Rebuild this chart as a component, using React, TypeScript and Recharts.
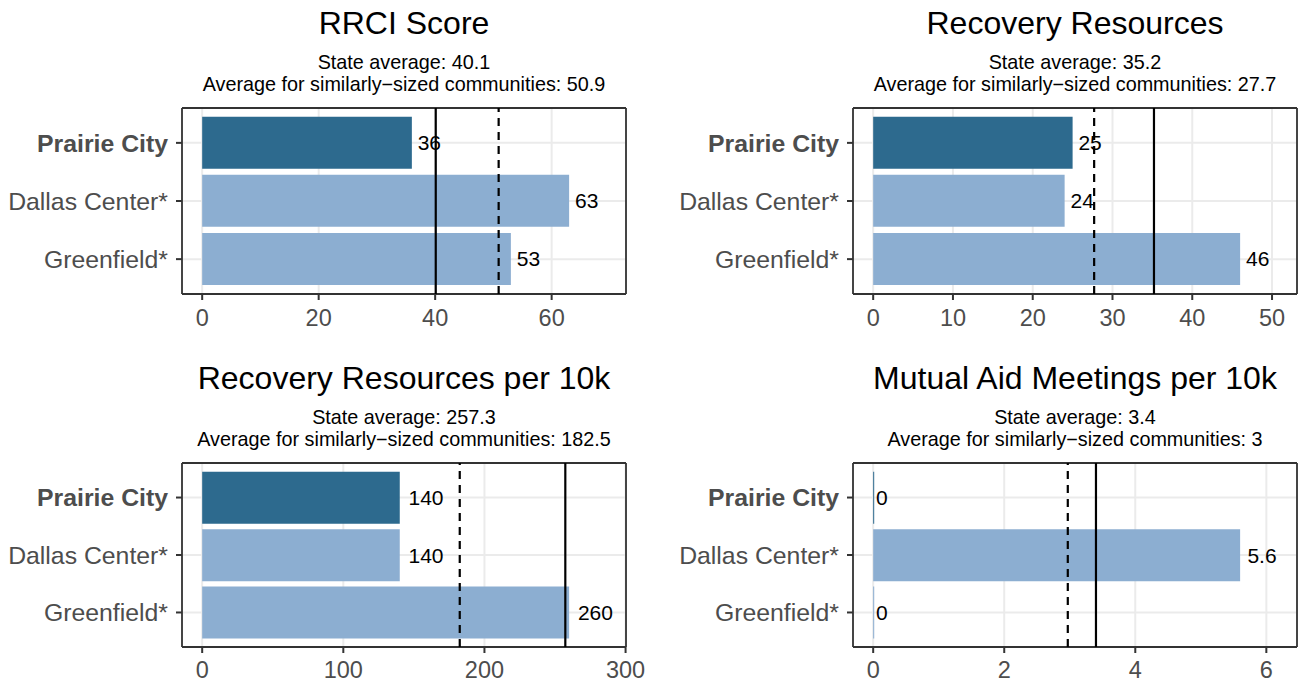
import React from 'react';
import { BarChart, Bar, XAxis, YAxis, CartesianGrid, ReferenceLine, Cell, LabelList } from 'recharts';

const communities = ['Prairie City', 'Dallas Center*', 'Greenfield*'];
const highlightCommunity = 'Prairie City';

const rrciScore = [36, 63, 53];
const recoveryResources = [25, 24, 46];
const resourcesPer10k = [140, 140, 260];
const meetingsPer10k = [0, 5.6, 0];

const panelTitles = ['RRCI Score', 'Recovery Resources', 'Recovery Resources per 10k', 'Mutual Aid Meetings per 10k'];
const stateAverages = [40.1, 35.2, 257.3, 3.4];
const similarAverages = [50.9, 27.7, 182.5, 2.97];

const ticksRrci = [0, 20, 40, 60];
const ticksResources = [0, 10, 20, 30, 40, 50];
const ticksPer10k = [0, 100, 200, 300];
const ticksMeetings = [0, 2, 4, 6];

const minorRrci = [10, 30, 50, 70];
const minorResources = [5, 15, 25, 35, 45];
const minorPer10k = [50, 150, 250];
const minorMeetings = [1, 3, 5];

const FONT = '"Liberation Sans", Arial, Helvetica, sans-serif';
const DARK = '#2D6A8E';
const LIGHT = '#8CAED1';
const GRID = '#EBEBEB';
const INK = '#333333';
const AXIS_TEXT = '#4D4D4D';

const Y_AXIS_W = 182;
const PLOT_W = 444;
const PLOT_TOP = 108;

const fmt = (v: number) => String(Number(v.toFixed(1)));

const charW = (s: string) => {
  let w = 0;
  for (const c of s) w += c === '.' ? 0.278 : 0.556;
  return w;
};

const CommunityTick = (props: any) => {
  const { x, y, payload } = props;
  const bold = payload.value === highlightCommunity;
  return (
    <text x={x} y={y} dy="0.355em" textAnchor="end" fill={AXIS_TEXT} fontSize={24.8}
      fontFamily={FONT} fontWeight={bold ? 'bold' : 'normal'}>
      {payload.value}
    </text>
  );
};

const ValueLabel = (props: any) => {
  const { x, y, width, height, value } = props;
  const txt = String(value);
  const fs = 21;
  const gap = 0.25 * charW(txt) * fs;
  const end = value === 0 ? x : x + width;
  return (
    <text x={end + gap} y={y + height / 2} dy="0.355em" textAnchor="start" fill="#000"
      fontSize={fs} fontFamily={FONT}>
      {txt}
    </text>
  );
};

type PanelProps = {
  title: string;
  values: number[];
  stateAvg: number;
  simAvg: number;
  ticks: number[];
  minor: number[];
  left: number;
  top: number;
  width: number;
  height: number;
  marginRight: number;
  xAxisHeight: number;
  tickGap: number;
};

const Panel = (p: PanelProps) => {
  const data = communities.map((name, i) => ({ name, value: p.values[i] }));
  const L = Math.max(...p.values) * 1.1;
  const domain = [-0.05 * L, 1.05 * L];
  const cx = Y_AXIS_W + PLOT_W / 2;
  return (
    <div style={{ position: 'absolute', left: p.left, top: p.top, width: p.width, height: p.height }}>
      <BarChart layout="vertical" width={p.width} height={p.height} data={data}
        margin={{ top: PLOT_TOP, right: p.marginRight, bottom: 0, left: 0 }}
        barCategoryGap="5%">
        <CartesianGrid stroke={GRID} strokeWidth={1} horizontal={false}
          verticalCoordinatesGenerator={(args: any) => {
            const s = args && args.xAxis && args.xAxis.scale;
            return typeof s === 'function' ? p.minor.map((v) => s(v)) : [];
          }} />
        <CartesianGrid stroke={GRID} strokeWidth={2} />
        <CartesianGrid stroke={INK} strokeWidth={1.8}
          horizontalCoordinatesGenerator={(args: any) => [args.offset.top, args.offset.top + args.offset.height]}
          verticalCoordinatesGenerator={(args: any) => [args.offset.left, args.offset.left + args.offset.width]} />
        <XAxis type="number" domain={domain} ticks={p.ticks} allowDataOverflow interval={0}
          tickSize={6} tickMargin={p.tickGap} axisLine={false} height={p.xAxisHeight}
          tickLine={{ stroke: INK, strokeWidth: 2 }}
          tick={{ fill: AXIS_TEXT, fontSize: 23.5, fontFamily: FONT }} />
        <YAxis type="category" dataKey="name" width={Y_AXIS_W} tickSize={6} tickMargin={8}
          axisLine={false} interval={0} padding={{ top: 5.8, bottom: 5.8 }}
          tickLine={{ stroke: INK, strokeWidth: 2 }}
          tick={(tp: any) => <CommunityTick {...tp} />} />
        <Bar dataKey="value" isAnimationActive={false} minPointSize={1}>
          {data.map((d) => (
            <Cell key={d.name} fill={d.name === highlightCommunity ? DARK : LIGHT} />
          ))}
          <LabelList dataKey="value" content={(lp: any) => <ValueLabel {...lp} />} />
        </Bar>
        <ReferenceLine x={p.simAvg} stroke="#000" strokeWidth={2.2} strokeDasharray="8 6" />
        <ReferenceLine x={p.stateAvg} stroke="#000" strokeWidth={2.2} />
      </BarChart>
      <svg width={p.width} height={PLOT_TOP} style={{ position: 'absolute', left: 0, top: 0, pointerEvents: 'none' }}>
        <text x={cx} y={33.5} textAnchor="middle" fontSize={32} fontFamily={FONT} fill="#000">{p.title}</text>
        <text x={cx} y={68.5} textAnchor="middle" fontSize={19.8} fontFamily={FONT} fill="#000">
          {`State average: ${fmt(p.stateAvg)}`}
        </text>
        <text x={cx} y={90.5} textAnchor="middle" fontSize={19.8} fontFamily={FONT} fill="#000">
          {`Average for similarly\u2212sized communities: ${fmt(p.simAvg)}`}
        </text>
      </svg>
    </div>
  );
};

export default function App() {
  return (
    <div style={{ position: 'absolute', left: 0, top: 0, width: 1299, height: 683, background: '#fff', overflow: 'hidden' }}>
      <Panel title={panelTitles[0]} values={rrciScore} stateAvg={stateAverages[0]} simAvg={similarAverages[0]}
        ticks={ticksRrci} minor={minorRrci} left={0} top={0} width={650} height={355}
        marginRight={24} xAxisHeight={61} tickGap={9} />
      <Panel title={panelTitles[1]} values={recoveryResources} stateAvg={stateAverages[1]} simAvg={similarAverages[1]}
        ticks={ticksResources} minor={minorResources} left={671} top={0} width={628} height={355}
        marginRight={2} xAxisHeight={61} tickGap={9} />
      <Panel title={panelTitles[2]} values={resourcesPer10k} stateAvg={stateAverages[2]} simAvg={similarAverages[2]}
        ticks={ticksPer10k} minor={minorPer10k} left={0} top={355} width={650} height={328}
        marginRight={24} xAxisHeight={36} tickGap={8} />
      <Panel title={panelTitles[3]} values={meetingsPer10k} stateAvg={stateAverages[3]} simAvg={similarAverages[3]}
        ticks={ticksMeetings} minor={minorMeetings} left={671} top={355} width={628} height={328}
        marginRight={2} xAxisHeight={36} tickGap={8} />
    </div>
  );
}
